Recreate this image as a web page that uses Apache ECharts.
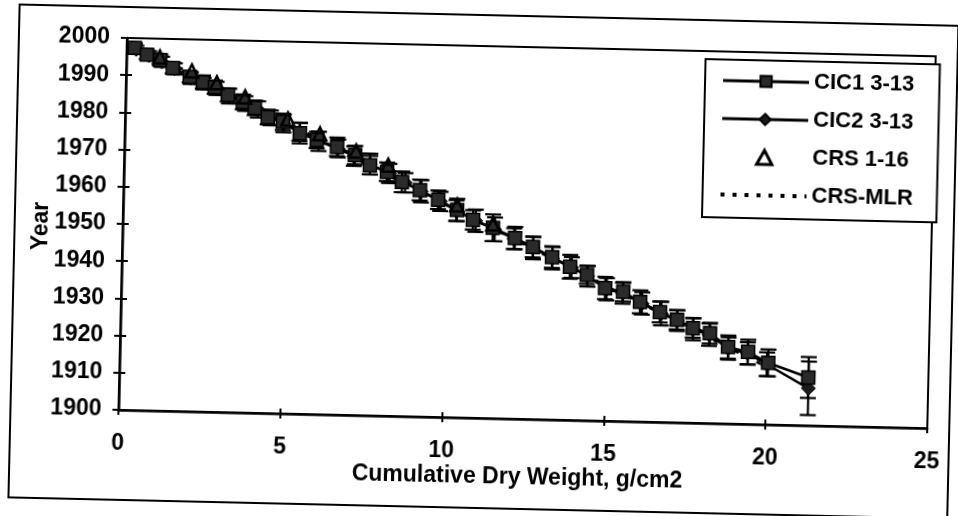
<!DOCTYPE html>
<html>
<head>
<meta charset="utf-8">
<script src="https://cdn.jsdelivr.net/npm/echarts@6/dist/echarts.min.js"></script>
<style>
html,body{margin:0;padding:0;background:#fff;overflow:hidden;}
#c{width:958px;height:516px;transform:rotate(1.3deg);transform-origin:479px 258px;}
</style>
</head>
<body>
<div id="c"></div>
<script>
// ---- data ----
var xTicks = [0, 5, 10, 15, 20, 25];
var yTicks = [1900, 1910, 1920, 1930, 1940, 1950, 1960, 1970, 1980, 1990, 2000];

var cic1X = [0.25,0.63,1.04,1.44,1.97,2.38,2.75,3.16,3.63,4.0,4.41,4.88,5.41,5.94,6.57,7.13,7.6,8.13,8.6,9.16,9.73,10.32,10.82,11.44,12.13,12.69,13.29,13.85,14.38,14.95,15.51,16.04,16.66,17.19,17.69,18.22,18.79,19.41,20.04,21.29];
var cic1Y = [1997.4,1995.6,1994.3,1992.2,1989.9,1988.6,1987.3,1985.3,1983.5,1982.0,1979.6,1978.4,1975.5,1973.7,1972.0,1969.9,1967.3,1965.6,1963.0,1960.9,1958.4,1955.8,1953.2,1951.2,1948.6,1946.3,1943.7,1941.2,1939.1,1935.7,1934.8,1932.2,1929.6,1927.6,1925.5,1924.2,1920.6,1919.4,1916.6,1912.9];
var cic1Err = [1.2,1.2,1.5,1.5,1.5,1.8,1.8,1.8,2.0,2.0,2.0,2.2,2.8,2.2,2.5,2.5,2.5,2.5,2.8,2.8,2.5,3.0,2.6,3.6,3.0,2.8,2.9,3.2,2.4,3.0,2.6,3.1,2.8,2.6,2.6,2.8,3.1,3.3,3.6,5.5];

var cic2X = [0.3,0.7,1.1,1.5,2.0,2.4,2.8,3.2,3.7,4.1,4.5,4.9,5.4,6.0,6.6,7.1,7.6,8.2,8.7,9.2,9.8,10.3,10.9,11.5,12.1,12.7,13.3,13.9,14.4,15.0,15.5,16.1,16.7,17.2,17.7,18.2,18.8,19.4,20.0,21.3];
var cic2Y = [1997.0,1995.4,1993.8,1992.0,1989.6,1988.2,1987.0,1985.0,1983.1,1981.6,1979.4,1978.0,1975.8,1973.4,1971.6,1969.6,1967.6,1965.2,1962.8,1960.6,1958.0,1955.6,1953.0,1950.8,1948.4,1946.0,1943.4,1941.0,1938.8,1935.4,1934.4,1931.8,1929.2,1927.4,1925.2,1923.8,1920.2,1919.0,1916.2,1910.0];
var cic2Err = [1.0,1.2,1.4,1.5,1.6,1.6,1.8,2.0,2.0,2.2,2.0,2.4,2.4,2.6,2.4,2.6,2.8,2.6,2.6,3.0,2.6,2.8,3.0,3.2,2.8,3.0,3.0,2.8,2.8,3.0,2.8,3.0,3.2,2.8,3.0,3.0,3.0,3.0,3.2,7.2];

var crsX = [1.03,2.03,2.81,3.69,5.03,6.03,7.16,8.16,10.32,11.44];
var crsY = [1995.1,1991.5,1988.5,1984.9,1979.2,1975.4,1971.0,1967.4,1957.1,1952.2];

var mlrX = [0.3, 10.0, 20.0];
var mlrY = [1998.0, 1957.0, 1915.5];

var seriesNames = ['CIC1 3-13', 'CIC2 3-13', 'CRS 1-16', 'CRS-MLR'];
var xTitle = 'Cumulative Dry Weight, g/cm2';
var yTitle = 'Year';

// ---- build ----
function pairs(xs, ys) { return xs.map(function (x, i) { return [x, ys[i]]; }); }
function errRows(xs, ys, es) { return xs.map(function (x, i) { return [x, ys[i], ys[i] - es[i], ys[i] + es[i]]; }); }

var FONT = '"Liberation Sans", Arial, sans-serif';
var lbl = { color: '#000', fontFamily: FONT, fontWeight: 'bold', fontSize: 23 };

function errItem(params, api) {
  var x = api.value(0);
  var p1 = api.coord([x, api.value(3)]);
  var p2 = api.coord([x, api.value(2)]);
  var w = 8;
  var st = { stroke: '#000', lineWidth: 2.2 };
  return { type: 'group', children: [
    { type: 'line', shape: { x1: p1[0], y1: p1[1], x2: p2[0], y2: p2[1] }, style: st },
    { type: 'line', shape: { x1: p1[0] - w, y1: p1[1], x2: p1[0] + w, y2: p1[1] }, style: st },
    { type: 'line', shape: { x1: p2[0] - w, y1: p2[1], x2: p2[0] + w, y2: p2[1] }, style: st }
  ]};
}
function plain(v) { return String(v); }

var axisLine = { show: true, lineStyle: { color: '#000', width: 2.5 } };
var chart = echarts.init(document.getElementById('c'), null, { renderer: 'canvas' });
chart.setOption({
  backgroundColor: '#fff',
  animation: false,
  grid: { left: 122, right: 27, top: 46, bottom: 98, show: true, borderColor: '#000', borderWidth: 2, backgroundColor: 'transparent' },
  xAxis: [
    { type: 'value', min: xTicks[0], max: xTicks[xTicks.length - 1], interval: xTicks[1] - xTicks[0], position: 'bottom',
      axisLine: axisLine, splitLine: { show: false },
      axisTick: { show: true, length: 5, lineStyle: { color: '#000', width: 2 } },
      axisLabel: Object.assign({ margin: 22, formatter: plain }, lbl) },
    { type: 'value', min: xTicks[0], max: xTicks[xTicks.length - 1], interval: xTicks[1] - xTicks[0], position: 'bottom', offset: 0,
      axisLine: { show: false }, splitLine: { show: false }, axisLabel: { show: false },
      axisTick: { show: true, inside: true, length: 5, lineStyle: { color: '#000', width: 2 } } }
  ],
  yAxis: [
    { type: 'value', min: yTicks[0], max: yTicks[yTicks.length - 1], interval: yTicks[1] - yTicks[0], position: 'left',
      axisLine: axisLine, splitLine: { show: false },
      axisTick: { show: true, length: 6, lineStyle: { color: '#000', width: 2 } },
      axisLabel: Object.assign({ margin: 17, formatter: plain }, lbl) },
    { type: 'value', min: yTicks[0], max: yTicks[yTicks.length - 1], interval: yTicks[1] - yTicks[0], position: 'left', offset: 0,
      axisLine: { show: false }, splitLine: { show: false }, axisLabel: { show: false },
      axisTick: { show: true, inside: true, length: 6, lineStyle: { color: '#000', width: 2 } } }
  ],
  legend: {
    orient: 'vertical', left: 701, top: 54,
    padding: [10, 24, 12, 16], itemGap: 16, itemWidth: 86, itemHeight: 14,
    borderColor: '#000', borderWidth: 2, backgroundColor: '#fff',
    textStyle: Object.assign({}, lbl, { fontSize: 22, lineHeight: 22 }),
    data: [
      { name: seriesNames[0], lineStyle: { width: 3 } },
      { name: seriesNames[1], lineStyle: { width: 3 } },
      { name: seriesNames[2], icon: 'path://M6,0 L12,11 L0,11 Z', itemStyle: { color: '#fff', borderColor: '#000', borderWidth: 3, opacity: 1 } },
      { name: seriesNames[3], lineStyle: { width: 4, type: [4, 8] } }
    ]
  },
  graphic: [
    { type: 'rect', shape: { x: 14, y: 15, width: 939, height: 493 }, style: { fill: 'none', stroke: '#000', lineWidth: 2 }, z: -1 },
    { type: 'text', x: 522, y: 477, style: { text: xTitle, font: 'bold 23px ' + FONT, fill: '#000', textAlign: 'center', textVerticalAlign: 'middle' } },
    { type: 'text', x: 41, y: 236, rotation: Math.PI / 2, style: { text: yTitle, font: 'bold 23px ' + FONT, fill: '#000', textAlign: 'center', textVerticalAlign: 'middle' } }
  ],
  series: [
    { name: 'err1', type: 'custom', renderItem: errItem, data: errRows(cic1X, cic1Y, cic1Err), z: 2, silent: true },
    { name: 'err2', type: 'custom', renderItem: errItem, data: errRows(cic2X, cic2Y, cic2Err), z: 2, silent: true },
    { name: seriesNames[3], type: 'line', data: pairs(mlrX, mlrY), symbol: 'circle', symbolSize: 0, showSymbol: false,
      itemStyle: { color: 'rgba(0,0,0,0)', borderWidth: 0 },
      lineStyle: { color: '#000', width: 3, type: [4, 8] }, z: 1 },
    { name: seriesNames[1], type: 'line', data: pairs(cic2X, cic2Y), symbol: 'diamond', symbolSize: 14,
      itemStyle: { color: '#1a1a1a', borderColor: '#000', borderWidth: 1 }, lineStyle: { color: '#000', width: 2.5 }, z: 3 },
    { name: seriesNames[0], type: 'line', data: pairs(cic1X, cic1Y), symbol: 'rect', symbolSize: 13,
      itemStyle: { color: '#2a2a2a', borderColor: '#000', borderWidth: 1.5 }, lineStyle: { color: '#000', width: 2.5 }, z: 4 },
    { name: seriesNames[2], type: 'scatter', data: pairs(crsX, crsY), symbol: 'triangle', symbolSize: 13,
      itemStyle: { color: 'rgba(255,255,255,0)', borderColor: '#000', borderWidth: 2.5, opacity: 1 }, z: 5 }
  ]
});
</script>
</body>
</html>
